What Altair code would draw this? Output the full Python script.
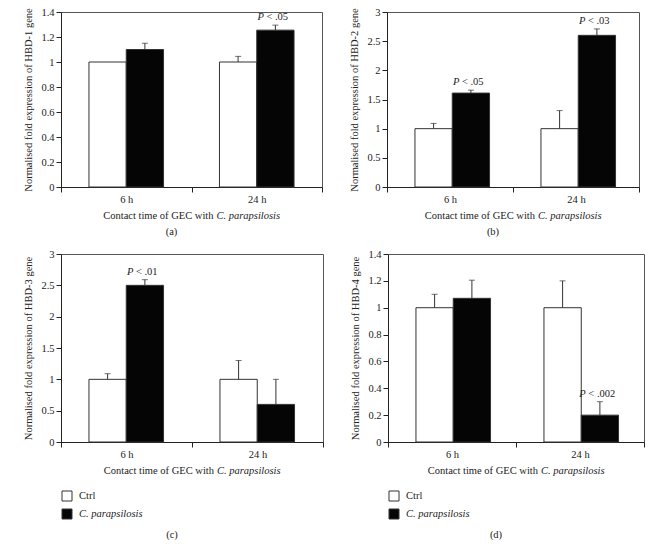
import altair as alt
import pandas as pd

# ---------------- data ----------------
times = ["6 h", "24 h"]
series = ["Ctrl", "C. parapsilosis"]

hbd1_ctrl = [1.0, 1.0]
hbd1_ctrl_err = [0.0, 0.045]
hbd1_cp = [1.10, 1.255]
hbd1_cp_err = [0.05, 0.04]

hbd2_ctrl = [1.0, 1.0]
hbd2_ctrl_err = [0.09, 0.31]
hbd2_cp = [1.61, 2.60]
hbd2_cp_err = [0.05, 0.11]

hbd3_ctrl = [1.0, 1.0]
hbd3_ctrl_err = [0.09, 0.30]
hbd3_cp = [2.50, 0.60]
hbd3_cp_err = [0.09, 0.40]

hbd4_ctrl = [1.0, 1.0]
hbd4_ctrl_err = [0.10, 0.20]
hbd4_cp = [1.07, 0.20]
hbd4_cp_err = [0.135, 0.10]

ticks_14 = [0, 0.2, 0.4, 0.6, 0.8, 1, 1.2, 1.4]
ticks_3 = [0, 0.5, 1, 1.5, 2, 2.5, 3]

pvals_a = [("24 h", ".05")]
pvals_b = [("6 h", ".05"), ("24 h", ".03")]
pvals_c = [("6 h", ".01")]
pvals_d = [("24 h", ".002")]

x_title_plain = "Contact time of GEC with"
x_title_italic = "C. parapsilosis"

FONT = "Liberation Serif"
INK = "#222222"
FS = 10.5


def panel(gene, ctrl, ctrl_err, cp, cp_err, ymax, yticks, pvals, W, H, caption, legend):
    df = pd.DataFrame({
        "time": times * 2,
        "series": [series[0]] * 2 + [series[1]] * 2,
        "value": ctrl + cp,
        "err": ctrl_err + cp_err,
    })
    df["top"] = df["value"] + df["err"]

    x = alt.X("time:N", sort=times,
              scale=alt.Scale(domain=times, paddingInner=0, paddingOuter=0),
              axis=alt.Axis(title=None, labelAngle=0, tickBand="extent",
                            labelPadding=2))
    xo = alt.XOffset("series:N", sort=series,
                     scale=alt.Scale(domain=series, paddingInner=0, paddingOuter=0.75))
    yscale = alt.Scale(domain=[0, ymax], nice=False)
    yaxis = alt.Axis(values=yticks, format="~g", grid=False, labelOverlap=False,
                     tickCount=len(yticks),
                     title=f"Normalised fold expression of {gene} gene",
                     titlePadding=7)

    def Y(field):
        return alt.Y(f"{field}:Q", scale=yscale, axis=yaxis)

    color = alt.Color("series:N", scale=alt.Scale(domain=series, range=["#ffffff", "#050505"]),
                      legend=None)

    base = alt.Chart(df)
    bars = base.mark_bar(stroke="#333333", strokeWidth=1).encode(
        x=x, xOffset=xo, y=Y("value"), color=color)
    errdf = base.transform_filter("datum.err > 0")
    errs = errdf.mark_rule(color="#333333", strokeWidth=1).encode(
        x=x, xOffset=xo, y=Y("value"), y2="top:Q")
    caps = errdf.mark_tick(color="#333333", size=6, thickness=1).encode(
        x=x, xOffset=xo, y=Y("top"))

    layers = [bars, errs, caps]

    # p-value annotations
    for t, lab in pvals:
        row = df[(df["time"] == t) & (df["series"] == series[1])]
        pdf = pd.DataFrame({"time": [t], "series": [series[1]],
                            "top": [float(row["top"].iloc[0])],
                            "p": ["P"], "rest": ["< " + lab]})
        rest_w = 16.5 + 5.2 * (len(lab) - 1)
        total = 6.5 + 2.5 + rest_w
        pb = alt.Chart(pdf)
        layers.append(pb.mark_text(font=FONT, fontSize=FS, fontStyle="italic", color=INK,
                                   align="left", baseline="bottom", dy=-3, dx=-total / 2)
                      .encode(x=x, xOffset=xo, y=Y("top"), text="p:N"))
        layers.append(pb.mark_text(font=FONT, fontSize=FS, color=INK,
                                   align="left", baseline="bottom", dy=-3, dx=-total / 2 + 9)
                      .encode(x=x, xOffset=xo, y=Y("top"), text="rest:N"))

    # x-axis title (plain + italic part)
    tdf = pd.DataFrame({"a": [x_title_plain], "b": [x_title_italic], "c": [caption]})
    tb = alt.Chart(tdf)
    layers.append(tb.mark_text(font=FONT, fontSize=FS, color=INK, align="right", baseline="middle")
                  .encode(x=alt.value(W / 2 + 22), y=alt.value(H + 29), text="a:N"))
    layers.append(tb.mark_text(font=FONT, fontSize=FS, fontStyle="italic", color=INK,
                               align="left", baseline="middle")
                  .encode(x=alt.value(W / 2 + 25), y=alt.value(H + 29), text="b:N"))
    cap_dy = 93 if legend else 45
    layers.append(tb.mark_text(font=FONT, fontSize=FS, color=INK, align="center", baseline="middle")
                  .encode(x=alt.value(W / 2 - 20), y=alt.value(H + cap_dy), text="c:N"))

    if legend:
        for i, s in enumerate(series):
            ldf = pd.DataFrame({"series": [s]})
            lb = alt.Chart(ldf)
            yy = H + 54 + 18 * i
            layers.append(lb.mark_square(size=100, stroke="#333333", strokeWidth=1, opacity=1)
                          .encode(x=alt.value(6), y=alt.value(yy), color=color))
            layers.append(lb.mark_text(font=FONT, fontSize=FS, color=INK, align="left",
                                       baseline="middle",
                                       fontStyle=("italic" if i == 1 else "normal"))
                          .encode(x=alt.value(18), y=alt.value(yy), text="series:N"))

    return alt.layer(*layers).properties(width=W, height=H)


pa = panel("HBD-1", hbd1_ctrl, hbd1_ctrl_err, hbd1_cp, hbd1_cp_err, 1.4, ticks_14, pvals_a,
           261, 175, "(a)", False)
pb_ = panel("HBD-2", hbd2_ctrl, hbd2_ctrl_err, hbd2_cp, hbd2_cp_err, 3, ticks_3, pvals_b,
            252, 175, "(b)", False)
pc = panel("HBD-3", hbd3_ctrl, hbd3_ctrl_err, hbd3_cp, hbd3_cp_err, 3, ticks_3, pvals_c,
           262, 188, "(c)", True)
pd_ = panel("HBD-4", hbd4_ctrl, hbd4_ctrl_err, hbd4_cp, hbd4_cp_err, 1.4, ticks_14, pvals_d,
            256, 188, "(d)", True)

row1 = alt.hconcat(pa, pb_, spacing=26).resolve_scale(y="independent")
row2 = alt.hconcat(pc, pd_, spacing=26).resolve_scale(y="independent")

chart = (
    alt.vconcat(row1, row2, spacing=10)
    .resolve_scale(y="independent")
    .properties(padding={"left": 15, "top": -2, "right": 0, "bottom": 0})
    .configure_view(stroke="#555555", strokeWidth=1)
    .configure_axis(labelFont=FONT, titleFont=FONT, labelFontSize=FS, titleFontSize=10.5,
                    titleFontWeight="normal", domainColor=INK, tickColor=INK,
                    labelColor=INK, titleColor=INK, tickSize=5, domainWidth=1)
)

chart.save("out.html", embed_options={"renderer": "svg", "actions": False})
